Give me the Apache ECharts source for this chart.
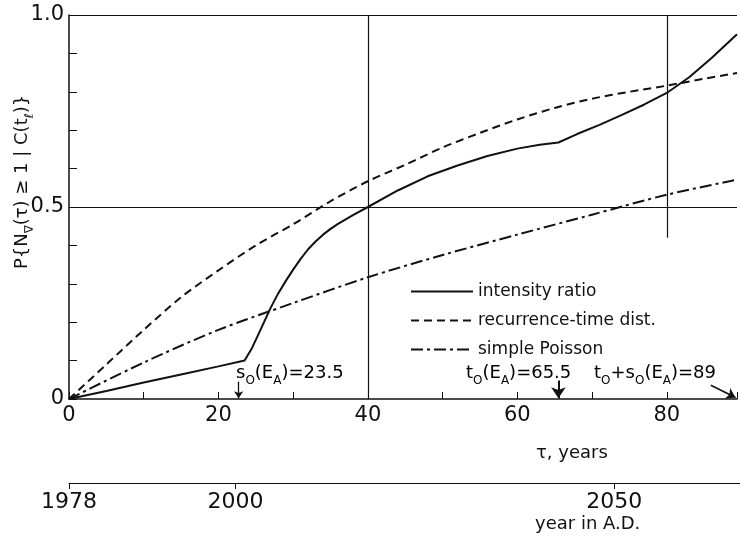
<!DOCTYPE html>
<html><head><meta charset="utf-8">
<script src="https://cdn.jsdelivr.net/npm/echarts@6/dist/echarts.min.js"></script>
<style>html,body{margin:0;padding:0;background:#fff}#c{width:740px;height:537px}</style>
</head><body><div id="c"></div>
<script>
// ---- data ----
const tauIntensity = [0,5,10,15,20,23.5,24.5,25.5,27,28,29,30,31,32,33,34,35,36,38,40,44,48,52,56,60,63,65.5,68,71,74,77,80,83,86,89.4];
const pIntensity   = [0,0.021,0.043,0.064,0.085,0.10,0.133,0.175,0.238,0.275,0.307,0.337,0.365,0.39,0.41,0.428,0.443,0.456,0.479,0.50,0.543,0.58,0.608,0.633,0.652,0.662,0.668,0.69,0.714,0.74,0.767,0.797,0.838,0.888,0.95];
const tauRecurrence = [0,5,10,15,20,25,30,35,40,45,50,55,60,65,70,75,80,85,89.4];
const pRecurrence   = [0,0.09,0.18,0.265,0.335,0.40,0.455,0.515,0.567,0.61,0.655,0.693,0.728,0.758,0.782,0.80,0.816,0.834,0.849];
const tauPoisson = [0,10,20,30,40,50,60,70,80,89.4];
const pPoisson   = [0,0.095,0.18,0.25,0.317,0.375,0.428,0.48,0.532,0.571];
const seriesNames = ['intensity ratio','recurrence-time dist.','simple Poisson'];
const xTickLabels = [0,20,40,60,80];
const yTickLabels = [0,0.5,1.0];
const yearTicks = [1978,2000,2050];
const yearStart = 1978;
const yearEnd = 2066.6;
const tauMax = 89.4;
const arrowTaus = [22.7, 65.5, 89.2];

const F = 'DejaVu Sans';
const K = '#111';
const zip = (a,b) => a.map((v,i)=>[v,b[i]]);
const chart = echarts.init(document.getElementById('c'));

const subRich = {
  m:{fontSize:18,fontFamily:F,color:K,lineHeight:28,verticalAlign:'middle'},
  s:{fontSize:12,fontFamily:F,color:K,lineHeight:12,verticalAlign:'bottom'}
};

const option = {
  backgroundColor:'#fff',
  animation:false,
  grid:[
    {left:69, top:15, width:671, height:384},
    {left:69, top:482, width:671, height:1}
  ],
  legend:{
    data:seriesNames, orient:'vertical', left:405, top:278,
    itemWidth:62, itemHeight:14, itemGap:12,
    itemStyle:{opacity:0},
    textStyle:{fontSize:17, fontFamily:F, color:K}, selectedMode:false
  },
  xAxis:[
    {type:'value', gridIndex:0, min:0, max:tauMax, interval:10,
     axisLine:{lineStyle:{color:K,width:1.5}},
     axisTick:{inside:true,length:7,lineStyle:{color:K,width:1}},
     axisLabel:{formatter:v=>xTickLabels.includes(v)?String(v):'', fontSize:21, fontFamily:F, color:K, margin:6},
     splitLine:{show:false}},
    {type:'value', gridIndex:1, min:yearStart, max:yearEnd, position:'bottom',
     axisLine:{lineStyle:{color:K,width:1.2}},
     axisTick:{show:true, customValues:yearTicks, length:6, lineStyle:{color:K,width:1}},
     axisLabel:{customValues:yearTicks, formatter:v=>String(v), fontSize:22, fontFamily:F, color:K, margin:8},
     splitLine:{show:false}}
  ],
  yAxis:[
    {type:'value', gridIndex:0, min:0, max:1, interval:0.1,
     axisLine:{show:true, lineStyle:{color:K,width:1.5}},
     axisTick:{show:true, inside:true, length:8, lineStyle:{color:K,width:1}},
     axisLabel:{formatter:v=>{const t=yTickLabels.find(u=>Math.abs(u-v)<1e-6); return t===undefined?'':(t===1?'1.0':String(t));},
       fontSize:21, fontFamily:F, color:K, margin:5},
     splitLine:{show:false}},
    {type:'value', gridIndex:1, min:0, max:1, show:false}
  ],
  series:[
    {name:seriesNames[0], type:'line', data:zip(tauIntensity,pIntensity), symbol:'none', color:K,
     lineStyle:{color:K,width:2,type:'solid'}, z:5,
     markLine:{silent:true, symbol:['none','none'], label:{show:false}, lineStyle:{color:K,width:1.2,type:'solid'},
       data:[
         {yAxis:0.5},
         {yAxis:1},
         {xAxis:40},
         [{coord:[80,1]},{coord:[80,0.42]}]
       ]}},
    {name:seriesNames[1], type:'line', data:zip(tauRecurrence,pRecurrence), symbol:'none', smooth:0.3, color:K,
     lineStyle:{color:K,width:2,type:[8,5]}, z:5,
     markLine:{silent:true, symbol:['none','arrow'], label:{show:false}, lineStyle:{color:K,width:1.3,type:'solid'},
       data:[
         [{coord:[arrowTaus[0],0.045]},{coord:[arrowTaus[0],0.002], symbolSize:7}],
         [{coord:[arrowTaus[1],0.048],lineStyle:{width:2}},{coord:[arrowTaus[1],0.002], symbolSize:11}],
         [{coord:[arrowTaus[2]-3.3,0.036],lineStyle:{width:1.6,curveness:-0.35}},{coord:[arrowTaus[2],0.004], symbolSize:9}]
       ]}},
    {name:seriesNames[2], type:'line', data:zip(tauPoisson,pPoisson), symbol:'none', smooth:0.3, color:K,
     lineStyle:{color:K,width:2,type:[12,4,3,4]}, z:5},
    {type:'line', xAxisIndex:1, yAxisIndex:1, data:[], symbol:'none'}
  ],
  graphic:[
    {type:'text', x:22, y:182, rotation:Math.PI/2,
     style:{text:'{m|P{N}{s|∇}{m|(τ) ≥ 1 | C(t}{s|ℓ}{m|)}}', rich:subRich, fontSize:18, fontFamily:F, fill:K, align:'center', verticalAlign:'middle'}},
    {type:'text', x:236, y:373, style:{text:'{m|s}{s|O}{m|(E}{s|A}{m|)=23.5}', rich:subRich, align:'left', verticalAlign:'middle'}},
    {type:'text', x:466, y:373, style:{text:'{m|t}{s|O}{m|(E}{s|A}{m|)=65.5}', rich:subRich, align:'left', verticalAlign:'middle'}},
    {type:'text', x:594, y:373, style:{text:'{m|t}{s|O}{m|+s}{s|O}{m|(E}{s|A}{m|)=89}', rich:subRich, align:'left', verticalAlign:'middle'}},
    {type:'text', x:536, y:453, style:{text:'τ, years', fontSize:18, fontFamily:F, fill:K, align:'left', verticalAlign:'middle'}},
    {type:'text', x:535, y:524, style:{text:'year in A.D.', fontSize:18, fontFamily:F, fill:K, align:'left', verticalAlign:'middle'}}
  ]
};
chart.setOption(option);
</script></body></html>
